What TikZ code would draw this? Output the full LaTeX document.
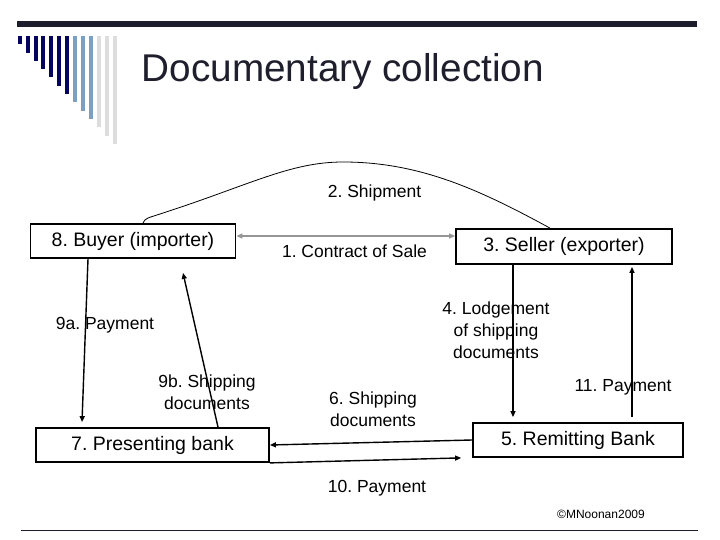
\documentclass[tikz,border=0pt]{standalone}
\usepackage{fontspec}
\setmainfont{Liberation Sans}
\usetikzlibrary{arrows.meta}
\frenchspacing
\definecolor{barcol}{RGB}{28,30,45}
\definecolor{navy}{RGB}{5,5,95}
\definecolor{steel}{RGB}{122,160,196}
\definecolor{lgray}{RGB}{221,221,221}
\definecolor{arrgray}{RGB}{150,150,150}
\definecolor{titlecol}{RGB}{30,30,45}
\begin{document}
\begin{tikzpicture}[x=1pt,y=-1pt,
  box/.style={draw, line width=1.8pt, inner sep=0pt, font=\fontsize{19.5}{22}\selectfont},
  lbl/.style={inner sep=0pt, align=center, font=\fontsize{17.5}{22}\selectfont},
  conn/.style={line width=1.4pt, -{Triangle[length=6pt,width=5pt]}},
  graylink/.style={line width=1.6pt, draw=arrgray, {Triangle[length=6pt,width=5pt]}-{Triangle[length=6pt,width=5pt]}},
  shipline/.style={line width=0.8pt}
]
\useasboundingbox (0,0) rectangle (720,540);
\fill[white] (0,0) rectangle (720,540);
% top bar
\fill[barcol] (17,21) rectangle (697,27);
% stripes
\foreach \i in {0,...,12}{
  \pgfmathsetmacro{\xc}{19.7+7.9*\i}
  \pgfmathsetmacro{\yb}{44.3+8.3*\i}
  \ifnum\i<7 \def\sc{navy}\else\ifnum\i<10 \def\sc{steel}\else\def\sc{lgray}\fi\fi
  \fill[\sc] (\xc-2,35.7) rectangle (\xc+2,\yb);
}
% title
\node[anchor=base west, inner sep=0pt, text=titlecol, font=\fontsize{38.7}{44}\selectfont] (title) at (141.5,82) {Documentary collection};

% boxes
\node[box, minimum width=205pt, minimum height=34pt] (buyer) at (133,241) {8. Buyer (importer)};
\node[box, minimum width=216pt, minimum height=35pt] (seller) at (564,246.5) {3. Seller (exporter)};
\node[box, minimum width=233pt, minimum height=34pt] (pres) at (152.5,445) {7. Presenting bank};
\node[box, minimum width=210pt, minimum height=34pt] (remit) at (578,440) {5. Remitting Bank};

% labels
\node[lbl] (l2) at (374.5,193) {2. Shipment};
\node[lbl] (l1) at (354.5,251) {1. Contract of Sale};
\node[lbl] (l9a) at (105,325) {9a. Payment};
\node[lbl] (l9b) at (207,392) {9b. Shipping\\documents};
\node[lbl] (l4) at (496,330) {4. Lodgement\\of shipping\\documents};
\node[lbl] (l6) at (373,409) {6. Shipping\\documents};
\node[lbl] (l11) at (623,387) {11. Payment};
\node[lbl] (l10) at (377,488) {10. Payment};
\node[inner sep=0pt, font=\fontsize{12}{14}\selectfont] (copy) at (601,514) {©MNoonan2009};

% connectors
\draw[graylink] ([yshift=5pt]buyer.east) -- ([yshift=10.5pt]seller.west);
\coordinate (s1) at ([xshift=10pt]buyer.north);
\coordinate (s2) at ([xshift=-14pt]seller.north);
\draw[shipline] (s1) .. controls (145,218) and (148,218) .. (160,214)
  .. controls (250,185) and (290,162) .. (343,162)
  .. controls (420,162) and (480,190) .. (s2);
\draw[conn] ([xshift=-45pt]buyer.south) -- ([xshift=-70.5pt,yshift=5pt]pres.north);
\draw[conn] ([xshift=65.5pt]pres.north) -- ([xshift=50pt,yshift=-14pt]buyer.south);
\draw[conn] ([xshift=-51pt]seller.south) -- ([xshift=-65pt,yshift=5pt]remit.north);
\draw[conn] ([xshift=54pt,yshift=5pt]remit.north) -- ([xshift=68pt,yshift=-2pt]seller.south);
\draw[conn] (remit.west) -- (pres.east);
\draw[conn] (pres.south east) -- ([xshift=-11pt]remit.south west);

% bottom rule
\draw[line width=1pt, draw=barcol] (21,530) -- (698,530);
\end{tikzpicture}
\end{document}
